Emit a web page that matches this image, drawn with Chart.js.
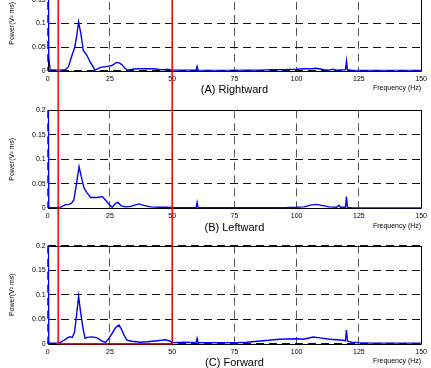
<!DOCTYPE html>
<html><head><meta charset="utf-8">
<script src="https://cdn.jsdelivr.net/npm/chart.js@4"></script>
<style>
html,body{margin:0;padding:0;width:431px;height:368px;overflow:hidden;background:#fff;position:relative}
canvas{position:absolute;left:0}
</style></head><body>
<canvas id="cA" width="431" height="140" style="top:-40px"></canvas>
<canvas id="cB" width="431" height="135" style="top:100px"></canvas>
<canvas id="cC" width="431" height="133" style="top:235px"></canvas>
<script>
// ---- data ----
const xTickLabels = ['0','25','50','75','100','125','150'];
const yTickLabels = ['0','0.05','0.1','0.15','0.2'];
const panelTitles = ['(A) Rightward','(B) Leftward','(C) Forward'];
const xAxisLabel = 'Frequency (Hz)';
const yAxisLabel = 'Power(V\u00B2 ms)';
const bandEdges = [4.2, 50];

const freqA  = [0,0.4,1,4,7,8.3,9.6,10.9,11.8,12.4,13.3,14.3,15.7,17,19,20.4,21.3,23.9,25.8,27.5,28.5,29.8,31,32.2,34,36,40,43,45,47,48,50,55,59.6,60,60.4,70,80,85,90,95,100,103,106,107.5,109,111,113,114.5,116,119.6,120,120.4,122,125,150];
const powerA = [0.6,0.03,0.002,0.001,0.002,0.008,0.03,0.05,0.079,0.103,0.079,0.042,0.033,0.019,0.001,0.005,0.007,0.009,0.011,0.017,0.017,0.013,0.005,0.001,0.003,0.004,0.004,0.004,0.002,0.002,0.003,0.001,0.001,0.001,0.009,0.001,0.0005,0.001,0.001,0.002,0.002,0.003,0.004,0.004,0.005,0.004,0.002,0.001,0.003,0.001,0.002,0.021,0.002,0.001,0.0005,0.0005];

const freqB  = [0,0.4,1,4,5.5,7,8.5,9.5,10.5,11.3,12.6,13.5,14.6,15.9,17.2,19.9,21.9,23.2,24.6,25.9,27.3,28.2,29.5,31.3,33.3,36.6,38.6,41.3,45,48,50,59.6,60,60.4,80,95,100,103,106,108,110,113,116,117,117.6,119.6,120,120.4,122,150];
const powerB = [0.6,0.003,0.001,0.001,0.003,0.007,0.008,0.01,0.017,0.041,0.085,0.064,0.041,0.031,0.022,0.022,0.024,0.017,0.008,0.002,0.01,0.012,0.005,0.003,0.004,0.009,0.006,0.003,0.002,0.002,0.001,0.001,0.012,0.001,0.001,0.001,0.002,0.003,0.007,0.008,0.006,0.003,0.002,0.006,0.002,0.002,0.024,0.002,0.001,0.0005];

const freqC  = [0,0.4,1,4.5,5.9,7.6,8.9,9.9,10.8,11.6,12.4,13.2,14.2,15,15.9,17.9,19.9,21.9,23.3,24.6,25.9,27.3,28.6,29.5,30.6,31.9,33.9,37.3,40,44,47.3,49.3,50,55,59.6,60,60.4,66,76,80,86.5,93,100,102.6,106.6,109.3,113.3,118.6,119.6,120,120.4,122,125,130,150];
const powerC = [0.6,0.002,0.001,0.001,0.005,0.011,0.014,0.013,0.024,0.059,0.097,0.065,0.031,0.011,0.013,0.014,0.012,0.005,0.003,0.011,0.021,0.033,0.038,0.031,0.018,0.007,0.005,0.003,0.004,0.006,0.008,0.005,0.002,0.003,0.002,0.011,0.002,0.002,0.002,0.003,0.006,0.009,0.010,0.009,0.0136,0.012,0.009,0.007,0.006,0.028,0.005,0.003,0.002,0.001,0.001];

// ---- drawing ----
const FONT = '"Liberation Sans", Arial, sans-serif';

function boxEdges(a) {
  return { l: Math.round(a.left) + 0.5, r: Math.round(a.right) + 0.5,
           t: Math.round(a.top) + 0.5, b: Math.round(a.bottom) + 0.5 };
}

const deco = {
  id: 'deco',
  beforeDatasetsDraw(chart) {
    const {ctx, chartArea: a} = chart;
    const e = boxEdges(a);
    ctx.save();
    ctx.setLineDash([]);
    ctx.strokeStyle = '#000';
    ctx.lineWidth = 1;
    ctx.beginPath();
    ctx.moveTo(e.l, e.t); ctx.lineTo(e.l, e.b); ctx.lineTo(e.r, e.b);
    ctx.stroke();
    ctx.restore();
  },
  afterDatasetsDraw(chart, args, opts) {
    const {ctx, chartArea: a, scales} = chart;
    const e = boxEdges(a);
    ctx.save();
    ctx.setLineDash([]);
    ctx.strokeStyle = '#000';
    ctx.lineWidth = 1;
    ctx.beginPath();
    ctx.moveTo(e.l, e.t); ctx.lineTo(e.r, e.t); ctx.lineTo(e.r, e.b);
    ctx.stroke();
    ctx.strokeStyle = '#ff0000';
    ctx.lineWidth = 1.5;
    const yEnd = opts.closeBand ? scales.y.getPixelForValue(0) : chart.height;
    const xs = bandEdges.map(v => scales.x.getPixelForValue(v));
    ctx.beginPath();
    xs.forEach(x => { ctx.moveTo(x, 0); ctx.lineTo(x, yEnd); });
    if (opts.closeBand) { ctx.moveTo(xs[0], yEnd); ctx.lineTo(xs[1], yEnd); }
    ctx.stroke();
    ctx.restore();
  },
  afterDraw(chart, args, opts) {
    const {ctx, chartArea: a} = chart;
    ctx.save();
    ctx.fillStyle = '#000';
    ctx.textBaseline = 'middle';
    ctx.font = '11px ' + FONT;
    ctx.textAlign = 'center';
    ctx.fillText(opts.title, (a.left + a.right) / 2, a.bottom + 19.5);
    ctx.font = '7px ' + FONT;
    ctx.textAlign = 'right';
    ctx.fillText(xAxisLabel, a.right, a.bottom + 17.5);
    ctx.translate(12.5, (a.top + a.bottom) / 2);
    ctx.rotate(-Math.PI / 2);
    ctx.textAlign = 'center';
    ctx.fillText(yAxisLabel, 0, 0);
    ctx.restore();
  }
};

function makePanel(id, freq, power, title, padTop, xAxisH, closeBand) {
  return new Chart(document.getElementById(id), {
    type: 'line',
    data: { datasets: [{
      data: freq.map((f, i) => ({x: f, y: power[i]})),
      borderColor: '#0000ff', borderWidth: 1.4, pointRadius: 0, tension: 0, fill: false
    }]},
    options: {
      responsive: false, animation: false, events: [],
      layout: { padding: { left: 0, right: 9, top: padTop, bottom: 0 }, autoPadding: false },
      plugins: { legend: {display: false}, tooltip: {enabled: false}, title: {display: false},
                 deco: { title, closeBand } },
      scales: {
        x: {
          type: 'linear', min: 0, max: 150,
          afterFit(s) { s.height = xAxisH; },
          border: { display: false, dash: [8,5] },
          grid: { color: '#555', lineWidth: 1, drawTicks: false, tickLength: 0 },
          ticks: { stepSize: 25, padding: 4, maxRotation: 0, color: '#000',
                   font: { size: 7, family: FONT },
                   callback: (v, i) => xTickLabels[i] }
        },
        y: {
          min: 0, max: 0.2,
          afterFit(s) { s.width = 47.7; },
          border: { display: false, dash: [8,5] },
          grid: { color: '#111', lineWidth: 1, drawTicks: false, tickLength: 0 },
          ticks: { stepSize: 0.05, padding: 2, color: '#000',
                   font: { size: 7, family: FONT },
                   callback: (v, i) => yTickLabels[i] }
        }
      }
    },
    plugins: [deco]
  });
}

makePanel('cA', freqA, powerA, panelTitles[0], 15.9, 29.3, false);
makePanel('cB', freqB, powerB, panelTitles[1], 10.3, 26.7, false);
makePanel('cC', freqC, powerC, panelTitles[2], 10.7, 24.3, true);
</script>
</body></html>
